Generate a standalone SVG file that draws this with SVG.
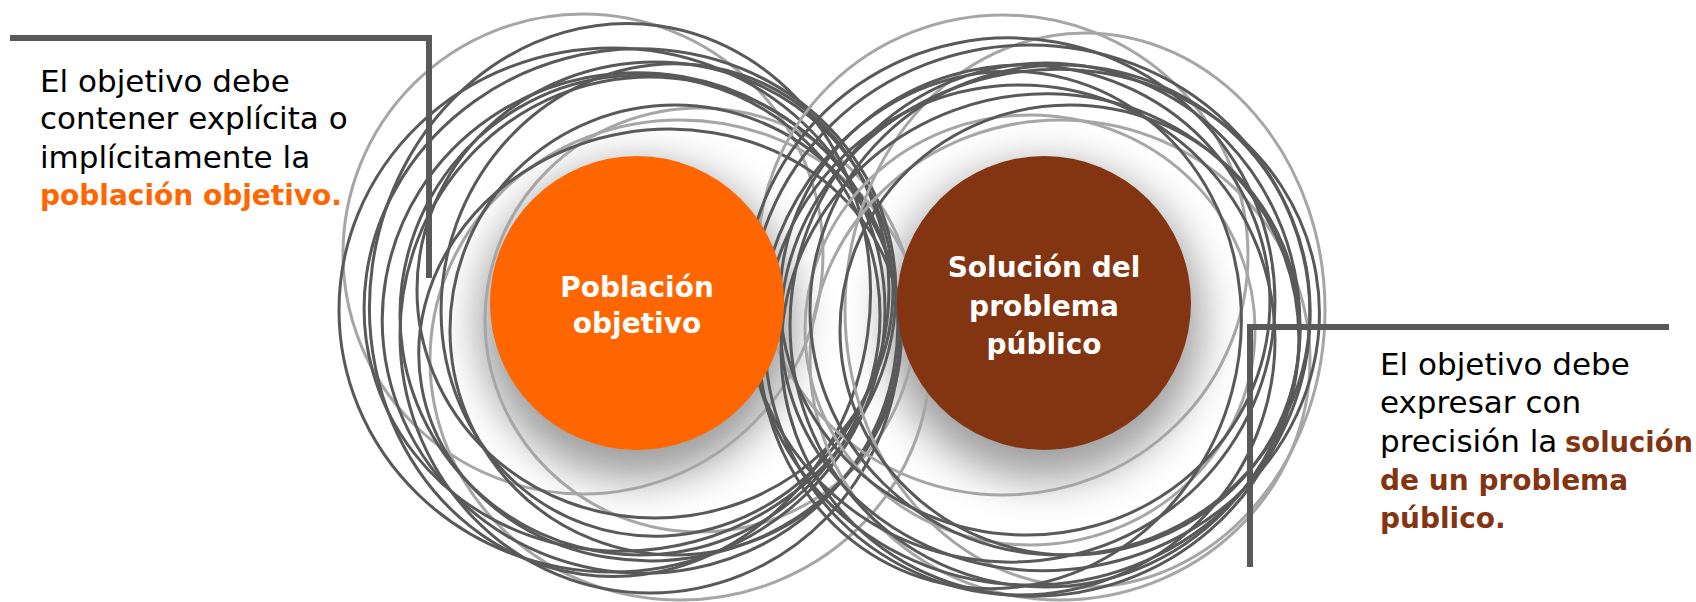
<svg xmlns="http://www.w3.org/2000/svg" width="1696" height="602" viewBox="0 0 1696 602">
<style>
.d{fill:none;stroke:#595959;stroke-width:3}
.l{fill:none;stroke:#a6a6a6;stroke-width:3}
.br{fill:none;stroke:#595959;stroke-width:6}
.t{font-family:"DejaVu Sans",sans-serif;font-size:31px;fill:#000}
.b{font-family:"DejaVu Sans",sans-serif;font-size:28px;font-weight:bold}
.c{font-family:"DejaVu Sans",sans-serif;font-size:28px;font-weight:bold;fill:#fff;text-anchor:middle}
</style>
<defs>
<filter id="blur" x="-50%" y="-50%" width="200%" height="200%"><feGaussianBlur stdDeviation="22"/></filter>
</defs>
<g id="shadows">
<circle cx="637" cy="322" r="158" fill="#000" opacity="0.38" filter="url(#blur)"/>
<circle cx="1044" cy="322" r="158" fill="#000" opacity="0.38" filter="url(#blur)"/>
</g>
<g id="scribble-left">
<ellipse class="l" cx="583" cy="254" rx="240" ry="240"/>
<ellipse class="l" cx="680" cy="360" rx="250" ry="240"/>
<ellipse class="l" cx="700" cy="320" rx="215" ry="212"/>
<ellipse class="d" cx="612" cy="310" rx="273" ry="262"/>
<ellipse class="d" cx="630" cy="300" rx="267" ry="250" transform="rotate(-15 630 300)"/>
<ellipse class="d" cx="640" cy="323" rx="258" ry="250" transform="rotate(10 640 323)"/>
<ellipse class="d" cx="655" cy="290" rx="238" ry="228"/>
<ellipse class="d" cx="650" cy="335" rx="250" ry="258"/>
<ellipse class="d" cx="665" cy="300" rx="222" ry="238" transform="rotate(20 665 300)"/>
<ellipse class="d" cx="640" cy="315" rx="240" ry="240" transform="rotate(-30 640 315)"/>
<ellipse class="d" cx="675" cy="330" rx="225" ry="225"/>
<ellipse class="d" cx="620" cy="300" rx="250" ry="277" transform="rotate(8 620 300)"/>
<ellipse class="d" cx="660" cy="345" rx="242" ry="215" transform="rotate(-10 660 345)"/>
</g>
<g id="scribble-right">
<ellipse class="l" cx="1003" cy="255" rx="245" ry="240"/>
<ellipse class="l" cx="1085" cy="310" rx="240" ry="277"/>
<ellipse class="l" cx="1060" cy="360" rx="250" ry="240"/>
<ellipse class="l" cx="1030" cy="330" rx="225" ry="215"/>
<ellipse class="d" cx="1030" cy="315" rx="280" ry="270"/>
<ellipse class="d" cx="1010" cy="300" rx="265" ry="262" transform="rotate(10 1010 300)"/>
<ellipse class="d" cx="1050" cy="320" rx="270" ry="250" transform="rotate(-10 1050 320)"/>
<ellipse class="d" cx="1045" cy="325" rx="255" ry="262"/>
<ellipse class="d" cx="1000" cy="330" rx="240" ry="260" transform="rotate(15 1000 330)"/>
<ellipse class="d" cx="1060" cy="310" rx="250" ry="245"/>
<ellipse class="d" cx="1040" cy="345" rx="260" ry="250" transform="rotate(-20 1040 345)"/>
<ellipse class="d" cx="1025" cy="300" rx="245" ry="235" transform="rotate(5 1025 300)"/>
<ellipse class="d" cx="1020" cy="340" rx="255" ry="255"/>
<ellipse class="d" cx="1070" cy="330" rx="230" ry="225"/>
</g>
<g id="connectors">
<path class="br" d="M10,38 H429 V278"/>
<path class="br" d="M1669,327 H1250 V567"/>
</g>
<g id="node-poblacion">
<circle cx="637" cy="303" r="147" fill="#ff6600"/>
<text class="c" x="637" y="297">Población</text>
<text class="c" x="637" y="333">objetivo</text>
</g>
<g id="node-solucion">
<circle cx="1044" cy="303" r="147" fill="#833511"/>
<text class="c" x="1044" y="277">Solución del</text>
<text class="c" x="1044" y="316">problema</text>
<text class="c" x="1044" y="354">público</text>
</g>
<g id="note-left">
<text class="t" x="40" y="92">El objetivo debe</text>
<text class="t" x="40" y="129">contener explícita o</text>
<text class="t" x="40" y="168">implícitamente la</text>
<text class="b" x="40" y="205" fill="#ff6600">población objetivo.</text>
</g>
<g id="note-right">
<text class="t" x="1380" y="375">El objetivo debe</text>
<text class="t" x="1380" y="413">expresar con</text>
<text class="t" x="1380" y="452">precisión la</text>
<text class="b" x="1565" y="452" fill="#833511" textLength="128" lengthAdjust="spacingAndGlyphs">solución</text>
<text class="b" x="1380" y="490" fill="#833511">de un problema</text>
<text class="b" x="1380" y="528" fill="#833511">público.</text>
</g>
</svg>
